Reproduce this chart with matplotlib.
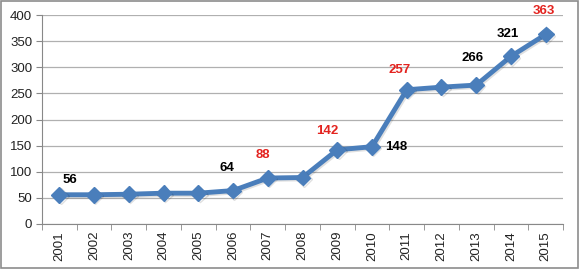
import numpy as np
import matplotlib.pyplot as plt
from matplotlib.patches import Rectangle
import matplotlib.patheffects as pe

# data
years = [str(y) for y in range(2001, 2016)]
values = [56, 56, 57, 59, 59, 64, 88, 89, 142, 148, 257, 262, 266, 321, 363]

# which points get a value label, and its colour
label_idx = [0, 5, 6, 8, 9, 10, 12, 13, 14]
label_red = [False, False, True, True, False, True, False, False, True]
# label offsets in pixels (dx, dy)
label_off = [(11, 15), (-6, 23), (-5, 23), (-10, 19), (24, 0),
             (-7, 20), (-4, 27), (-3, 22), (-2, 23)]

plt.rcParams['font.family'] = ['Liberation Sans', 'DejaVu Sans']

fig = plt.figure(figsize=(5.79, 2.69), dpi=100)
ax = fig.add_axes([0.0725, 0.1673, 0.9, 0.7767])

x = np.arange(len(years))
line_col = '#4a7ebb'
ax.plot(x, values, color=line_col, lw=3.5, marker='D', ms=8,
        mfc=line_col, mec=line_col, zorder=3,
        path_effects=[pe.SimpleLineShadow(offset=(1, -1), alpha=0.12),
                      pe.Normal()])

for i, red, (dx, dy) in zip(label_idx, label_red, label_off):
    ax.annotate(str(values[i]), (x[i], values[i]), xytext=(dx, dy),
                textcoords='offset pixels', ha='center', va='center',
                fontsize=9.5, fontweight='bold',
                color='#e3231f' if red else 'black')

ax.set_xlim(-0.5, len(years) - 0.5)
ax.set_ylim(0, 400)
ax.set_yticks(np.arange(0, 401, 50))
ax.set_xticks(x)
ax.set_xticklabels(years, rotation=90)
ax.set_xticks(np.arange(-0.5, len(years), 1), minor=True)
ax.tick_params(axis='x', which='major', length=0, pad=5, labelsize=9.5,
               labelcolor='#222222')
ax.tick_params(axis='x', which='minor', length=4, color='#888888',
               direction='out')
ax.tick_params(axis='y', length=4, color='#888888', labelsize=9.5,
               labelcolor='#222222', pad=3)

ax.grid(axis='y', color='#b0b0b0', lw=0.9)
ax.set_axisbelow(True)
for s in ['top', 'right']:
    ax.spines[s].set_visible(False)
ax.spines['left'].set_color('#888888')
ax.spines['bottom'].set_color('#888888')

fig.patches.append(Rectangle((0.001, 0.002), 0.997, 0.995,
                             transform=fig.transFigure, fill=False,
                             ec='#8c8c8c', lw=1.2))

fig.savefig('out.png', dpi=100)
